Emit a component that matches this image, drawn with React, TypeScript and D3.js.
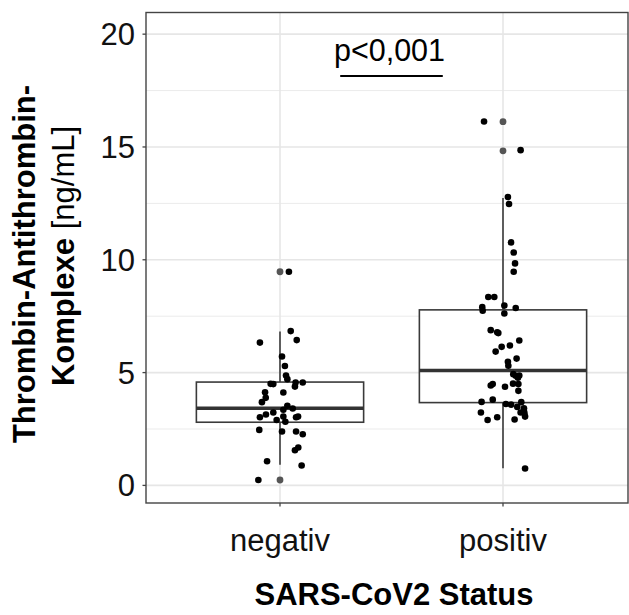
import React from "react";
import * as d3 from "d3";

const categories = ["negativ", "positiv"];
const boxQ1 = [2.8, 3.67];
const boxMedian = [3.42, 5.09];
const boxQ3 = [4.58, 7.78];
const whiskerLow = [0.91, 0.76];
const whiskerHigh = [6.82, 12.74];
const outliers = [
  [9.47, 0.24],
  [16.12, 14.83],
];
const yTicks = [0, 5, 10, 15, 20];
const yMinorTicks = [2.5, 7.5, 12.5, 17.5];

// jittered observations: [horizontal jitter (category units), value]
const negativPoints: [number, number][] = [
  [0.04, 9.47], [0.048, 6.84], [-0.09, 6.33], [0.075, 6.44], [0.009, 5.71],
  [0.022, 5.29], [0.027, 4.87], [0.033, 4.71], [-0.042, 4.5], [-0.03, 4.49],
  [0.07, 4.56], [0.102, 4.56], [0.067, 4.38], [-0.067, 4.13], [0.015, 4.12],
  [-0.064, 3.88], [-0.081, 3.69], [0.033, 3.53], [0.057, 3.41], [0.015, 3.35],
  [-0.03, 3.23], [-0.063, 3.14], [-0.09, 3.02], [0.015, 3.05], [0.072, 3.02],
  [0.081, 3.05], [-0.015, 2.9], [0.024, 2.82], [-0.093, 2.46], [0.009, 2.39],
  [0.072, 2.39], [0.102, 2.27], [0.082, 1.68], [0.067, 1.56], [-0.058, 1.07],
  [0.097, 0.88], [-0.097, 0.24],
];
const positivPoints: [number, number][] = [
  [-0.085, 16.13], [0.079, 14.86], [0.022, 12.78], [0.027, 12.47], [0.036, 10.77],
  [0.048, 10.32], [0.054, 9.84], [0.048, 9.47], [-0.066, 8.35], [-0.039, 8.35],
  [0.006, 7.97], [-0.093, 7.9], [-0.091, 7.74], [0.006, 7.62], [0.057, 7.86],
  [-0.055, 6.88], [-0.026, 6.79], [-0.021, 6.75], [0.073, 6.42], [-0.006, 6.14],
  [0.031, 6.2], [-0.033, 5.93], [0.061, 5.62], [0.022, 5.48], [0.024, 5.3],
  [0.046, 4.93], [0.057, 4.86], [0.073, 4.87], [0.067, 4.77], [-0.055, 4.43],
  [-0.046, 4.49], [0.009, 4.37], [0.045, 4.51], [0.069, 4.49], [0.069, 4.19],
  [-0.096, 3.7], [-0.046, 3.8], [0.013, 3.61], [0.036, 3.58], [0.082, 3.69],
  [0.064, 3.48], [0.094, 3.42], [0.094, 3.3], [-0.099, 3.23], [0.079, 3.23],
  [0.096, 3.2], [0.099, 3.05], [-0.069, 2.9], [-0.026, 3.02], [0.052, 2.92],
  [0.099, 0.75],
];
const groupPoints = [negativPoints, positivPoints];

const pLabel = "p<0,001";
const pBracket = [1.27, 1.73];
const pBracketY = 18.15;

const W = 629;
const H = 615;
const panel = { left: 146, right: 628, top: 12.5, bottom: 503 };
const FONT = "'Liberation Sans', Arial, Helvetica, sans-serif";

export default function App() {
  const x = d3.scaleLinear().domain([0.4, 2.6]).range([146.2, 636.8]);
  const y = d3.scaleLinear().domain([-0.78, 20.96]).range([panel.bottom, panel.top]);
  const boxHalf = 0.375;

  return (
    <svg
      width={W}
      height={H}
      style={{ position: "absolute", left: 0, top: 0, background: "#fff" }}
      fontFamily={FONT}
    >
      <rect x={0} y={0} width={W} height={H} fill="#fff" />
      {/* grid */}
      {yMinorTicks.map((t) => (
        <line key={"mi" + t} x1={panel.left} x2={panel.right} y1={y(t)} y2={y(t)} stroke="#ebebeb" strokeWidth={1} />
      ))}
      {yTicks.map((t) => (
        <line key={"ma" + t} x1={panel.left} x2={panel.right} y1={y(t)} y2={y(t)} stroke="#e6e6e6" strokeWidth={1.6} />
      ))}
      {categories.map((c, i) => (
        <line key={"vg" + c} x1={x(i + 1)} x2={x(i + 1)} y1={panel.top} y2={panel.bottom} stroke="#e6e6e6" strokeWidth={1.6} />
      ))}

      {/* boxplots */}
      {categories.map((c, i) => {
        const cx = x(i + 1);
        const x0 = x(i + 1 - boxHalf);
        const x1 = x(i + 1 + boxHalf);
        return (
          <g key={"box" + c}>
            <line x1={cx} x2={cx} y1={y(whiskerHigh[i])} y2={y(boxQ3[i])} stroke="#3a3a3a" strokeWidth={1.6} />
            <line x1={cx} x2={cx} y1={y(boxQ1[i])} y2={y(whiskerLow[i])} stroke="#3a3a3a" strokeWidth={1.6} />
            <rect
              x={x0}
              y={y(boxQ3[i])}
              width={x1 - x0}
              height={y(boxQ1[i]) - y(boxQ3[i])}
              fill="#fff"
              stroke="#3a3a3a"
              strokeWidth={1.6}
            />
            <line x1={x0} x2={x1} y1={y(boxMedian[i])} y2={y(boxMedian[i])} stroke="#333" strokeWidth={3.4} />
            {outliers[i].map((v, k) => (
              <circle key={"o" + k} cx={cx} cy={y(v)} r={3.4} fill="#555" />
            ))}
          </g>
        );
      })}

      {/* jittered points */}
      {groupPoints.map((pts, i) =>
        pts.map(([dx, v], k) => (
          <circle key={"p" + i + "-" + k} cx={x(i + 1 + dx)} cy={y(v)} r={3.3} fill="#000" />
        ))
      )}

      {/* p-value annotation */}
      <line x1={x(pBracket[0])} x2={x(pBracket[1])} y1={y(pBracketY)} y2={y(pBracketY)} stroke="#000" strokeWidth={2} />
      <text x={x((pBracket[0] + pBracket[1]) / 2) - 2} y={60.5} textAnchor="middle" fontSize={30.5} fill="#000">
        {pLabel}
      </text>

      {/* panel border */}
      <rect
        x={panel.left}
        y={panel.top}
        width={panel.right - panel.left}
        height={panel.bottom - panel.top}
        fill="none"
        stroke="#444"
        strokeWidth={1.4}
      />

      {/* y axis ticks & labels */}
      {yTicks.map((t) => (
        <g key={"yt" + t}>
          <line x1={panel.left - 3.5} x2={panel.left} y1={y(t)} y2={y(t)} stroke="#444" strokeWidth={1.3} />
          <text x={135} y={y(t) + 11} textAnchor="end" fontSize={31} fill="#111">
            {t}
          </text>
        </g>
      ))}

      {/* x axis ticks & labels */}
      {categories.map((c, i) => (
        <g key={"xt" + c}>
          <line x1={x(i + 1)} x2={x(i + 1)} y1={panel.bottom} y2={panel.bottom + 3.5} stroke="#444" strokeWidth={1.3} />
          <text x={x(i + 1)} y={550.7} textAnchor="middle" fontSize={31} fill="#111">
            {c}
          </text>
        </g>
      ))}

      {/* axis titles */}
      <text x={394} y={605} textAnchor="middle" fontSize={31} fontWeight="bold" fill="#000">
        SARS-CoV2 Status
      </text>
      <text transform="translate(34.5,264) rotate(-90)" textAnchor="middle" fontSize={31} fontWeight="bold" fill="#000">
        Thrombin-Antithrombin-
      </text>
      <text transform="translate(73.5,256) rotate(-90)" textAnchor="middle" fontSize={31} fill="#000">
        <tspan fontWeight="bold">Komplexe</tspan>
        <tspan> [ng/mL]</tspan>
      </text>
    </svg>
  );
}
